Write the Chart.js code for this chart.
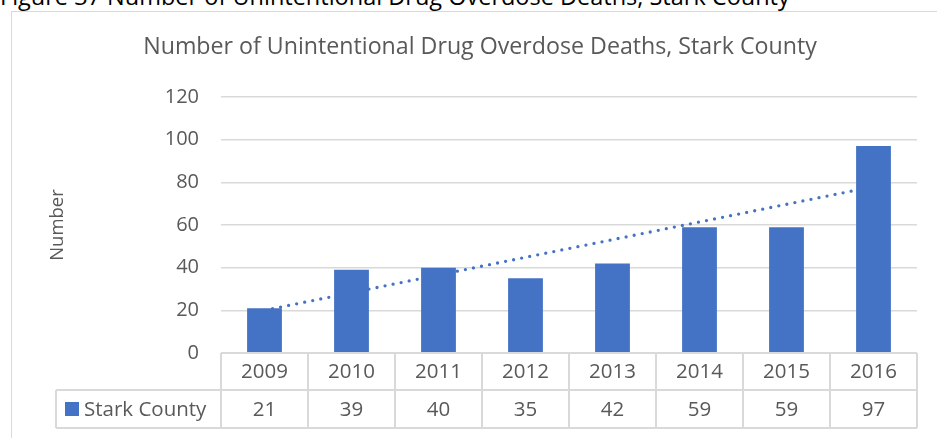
<!DOCTYPE html>
<html>
<head>
<meta charset="utf-8">
<script src="https://cdn.jsdelivr.net/npm/chart.js@4.4.1/dist/chart.umd.min.js"></script>
<style>
  html, body { margin:0; padding:0; width:937px; height:438px; overflow:hidden; background:#ffffff; }
  #caption { position:absolute; left:0; top:-15px; font-family:'Open Sans'; font-size:23.5px; line-height:23.5px; color:#000; white-space:nowrap; }
  #frame { position:absolute; left:11px; top:11px; width:960px; height:460px; border:1.6px solid #D9D9D9; box-sizing:border-box; }
  #c { position:absolute; left:0; top:0; }
</style>
</head>
<body>
<div id="caption">Figure 37 Number of Unintentional Drug Overdose Deaths, Stark County</div>
<div id="frame"></div>
<canvas id="c" width="937" height="438"></canvas>
<script>
// ---- data ----
const chartTitle = 'Number of Unintentional Drug Overdose Deaths, Stark County';
const yAxisTitle = 'Number';
const categories = ['2009', '2010', '2011', '2012', '2013', '2014', '2015', '2016'];
const seriesName = 'Stark County';
const deaths = [21, 39, 40, 35, 42, 59, 59, 97];
const yTickValues = [0, 20, 40, 60, 80, 100, 120];

// linear (least squares) trendline of the series, as the spreadsheet draws it
function linearTrend(values) {
  const n = values.length;
  const xs = values.map((_, i) => i + 1);
  const mx = xs.reduce((a, b) => a + b, 0) / n;
  const my = values.reduce((a, b) => a + b, 0) / n;
  let sxy = 0, sxx = 0;
  for (let i = 0; i < n; i++) { sxy += (xs[i] - mx) * (values[i] - my); sxx += (xs[i] - mx) ** 2; }
  const slope = sxy / sxx, icpt = my - slope * mx;
  return xs.map(x => icpt + slope * x);
}
const trend = linearTrend(deaths);

const BLUE = '#4472C4';
const GRID = '#D9D9D9';
const TEXT = '#595959';
const FONT = "'Open Sans'";

const dataTablePlugin = {
  id: 'dataTable',
  afterDraw(chart) {
    const ctx = chart.ctx;
    const x = chart.scales.x;
    const area = chart.chartArea;
    const step = x.getPixelForValue(1) - x.getPixelForValue(0);
    const left = area.left, right = area.right;
    const r0 = area.bottom, r1 = r0 + 37, r2 = r1 + 38;
    const legendLeft = 56;
    ctx.save();
    ctx.strokeStyle = GRID;
    ctx.lineWidth = 2;
    ctx.beginPath();
    ctx.moveTo(left, r0); ctx.lineTo(right, r0);
    ctx.moveTo(legendLeft, r1); ctx.lineTo(right, r1);
    ctx.moveTo(legendLeft, r2); ctx.lineTo(right, r2);
    ctx.moveTo(legendLeft, r1); ctx.lineTo(legendLeft, r2);
    for (let i = 0; i <= categories.length; i++) {
      const px = i < categories.length ? x.getPixelForValue(i) - step / 2 : x.getPixelForValue(categories.length - 1) + step / 2;
      ctx.moveTo(px, r0); ctx.lineTo(px, r2);
    }
    ctx.stroke();

    ctx.fillStyle = TEXT;
    ctx.font = '20.5px ' + FONT;
    ctx.textAlign = 'center';
    ctx.textBaseline = 'middle';
    categories.forEach((c, i) => {
      const cx = x.getPixelForValue(i);
      ctx.fillText(c, cx, (r0 + r1) / 2 + 1);
      ctx.fillText(String(deaths[i]), cx, (r1 + r2) / 2 + 1);
    });
    // legend key
    ctx.fillStyle = BLUE;
    ctx.fillRect(65, (r1 + r2) / 2 - 7, 14, 14);
    ctx.fillStyle = TEXT;
    ctx.textAlign = 'left';
    ctx.fillText(seriesName, 84, (r1 + r2) / 2 + 1);
    ctx.restore();
  }
};

new Chart(document.getElementById('c'), {
  data: {
    labels: categories,
    datasets: [
      {
        type: 'bar',
        label: seriesName,
        data: deaths,
        backgroundColor: BLUE,
        borderWidth: 0,
        barPercentage: 0.4,
        categoryPercentage: 1.0,
        order: 0
      },
      {
        type: 'line',
        label: 'Linear (' + seriesName + ')',
        data: trend,
        borderColor: BLUE,
        borderWidth: 3.3,
        borderDash: [0, 8.2],
        borderCapStyle: 'round',
        pointRadius: 0,
        fill: false,
        tension: 0,
        order: 1
      }
    ]
  },
  options: {
    responsive: false,
    animation: false,
    layout: { padding: { left: 43, right: 20, top: 0, bottom: 77 } },
    plugins: {
      legend: { display: false },
      tooltip: { enabled: false },
      title: {
        display: true,
        text: chartTitle,
        color: TEXT,
        font: { family: FONT, size: 23.2, weight: 'normal' },
        padding: { top: 33, bottom: 36.2 }
      }
    },
    scales: {
      x: {
        type: 'category',
        offset: true,
        grid: { display: false },
        border: { display: false },
        ticks: { display: false }
      },
      y: {
        min: 0,
        max: 120,
        afterBuildTicks(scale) { scale.ticks = yTickValues.map(v => ({ value: v })); },
        afterFit(scale) { scale.width = 178; },
        ticks: { color: TEXT, font: { family: FONT, size: 20 }, padding: 22 },
        grid: { color: GRID, lineWidth: 1.6, drawTicks: false },
        border: { display: false },
        title: {
          display: true,
          text: yAxisTitle,
          color: TEXT,
          font: { family: FONT, size: 18.5 },
          padding: { top: 4, bottom: 0 }
        }
      }
    }
  },
  plugins: [dataTablePlugin]
});
</script>
</body>
</html>
